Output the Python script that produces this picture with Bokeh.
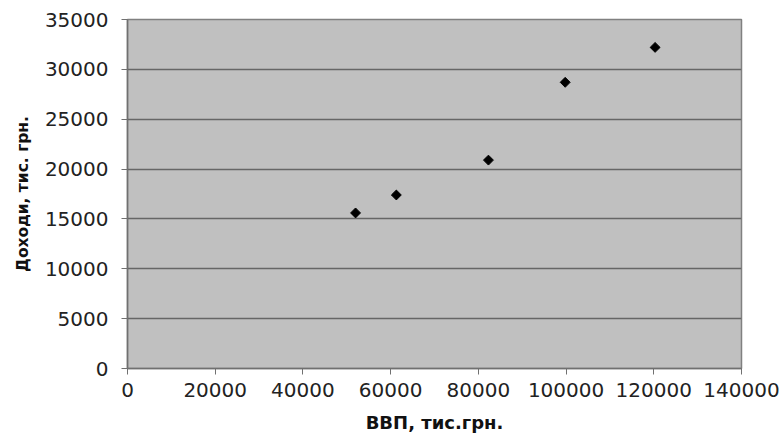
from bokeh.plotting import figure
from bokeh.models import Range1d, SingleIntervalTicker, NumeralTickFormatter
from bokeh.embed import file_html
from bokeh.resources import INLINE
import math

gdp = [52000, 61300, 82300, 99800, 120300]
income = [15600, 17400, 20900, 28700, 32200]

p = figure(width=782, height=435, output_backend="svg", toolbar_location=None,
           x_range=Range1d(0, 140000), y_range=Range1d(0, 35000),
           min_border_left=127, min_border_right=41, min_border_top=19, min_border_bottom=67)
p.background_fill_color = "#c0c0c0"
p.border_fill_color = "white"
p.outline_line_color = "#808080"
p.outline_line_width = 1.5

p.scatter(gdp, income, marker="square", size=7, angle=math.pi / 4, color="black")

p.xgrid.grid_line_color = None
p.ygrid.grid_line_color = "#666666"
p.ygrid.grid_line_width = 1.5

p.xaxis.ticker = SingleIntervalTicker(interval=20000)
p.yaxis.ticker = SingleIntervalTicker(interval=5000)
p.xaxis.formatter = NumeralTickFormatter(format="0")
p.yaxis.formatter = NumeralTickFormatter(format="0")

p.axis.axis_line_color = "#707070"
p.axis.axis_line_width = 1.5
p.axis.major_tick_line_color = "#707070"
p.axis.major_tick_out = 6
p.axis.major_tick_in = 0
p.axis.minor_tick_line_color = None
p.axis.major_label_text_font = "DejaVu Sans"
p.axis.major_label_text_font_size = "20px"
p.axis.major_label_text_color = "#222222"
p.axis.axis_label_text_font = "DejaVu Sans"
p.axis.axis_label_text_font_style = "bold"
p.axis.axis_label_text_color = "#111111"
p.xaxis.axis_label_text_font_size = "18px"
p.yaxis.axis_label_text_font_size = "15.5px"

p.xaxis.axis_label = "ВВП, тис.грн."
p.yaxis.axis_label = "Доходи, тис. грн."
p.xaxis.major_label_standoff = 8
p.yaxis.major_label_standoff = 13
p.xaxis.axis_label_standoff = 12
p.yaxis.axis_label_standoff = 10

open("out.html", "w").write(file_html(p, INLINE))
